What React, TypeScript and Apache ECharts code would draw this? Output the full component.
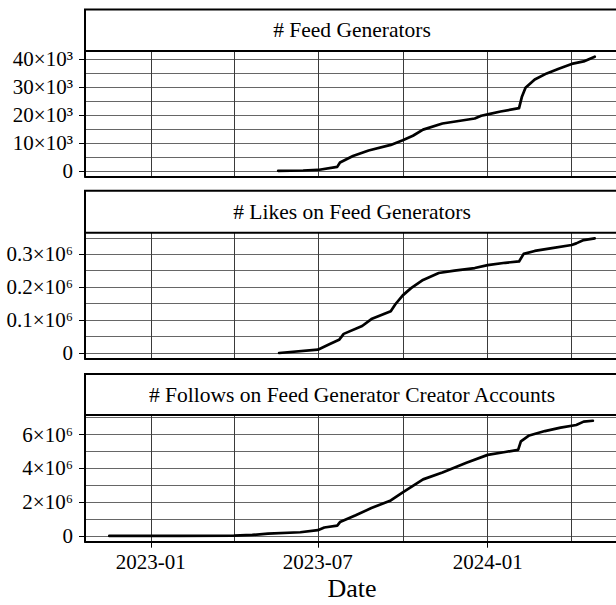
import React, { useEffect, useRef } from "react";
import * as echarts from "echarts";

// ---------- data ----------
const feedGenDates = [
  "2023-05-19", "2023-06-15", "2023-07-01", "2023-07-22", "2023-07-25", "2023-08-08",
  "2023-08-25", "2023-09-18", "2023-10-01", "2023-10-12", "2023-10-23", "2023-11-13",
  "2023-12-18", "2023-12-25", "2024-01-01", "2024-01-15", "2024-02-04", "2024-02-07",
  "2024-02-11", "2024-02-21", "2024-03-05", "2024-03-18", "2024-04-01", "2024-04-14",
  "2024-04-26",
];
const feedGenValues = [
  0, 100, 300, 1400, 3000, 5300,
  7300, 9300, 11000, 12600, 14800, 17000,
  18800, 19800, 20300, 21300, 22500, 26500,
  29800, 32800, 35000, 36700, 38400, 39300,
  41000,
];

const likesDates = [
  "2023-05-20", "2023-07-01", "2023-07-14", "2023-07-24", "2023-07-29", "2023-08-18",
  "2023-08-28", "2023-09-18", "2023-09-23", "2023-10-01", "2023-10-10", "2023-10-23",
  "2023-11-09", "2023-11-26", "2023-12-18", "2024-01-01", "2024-01-20", "2024-02-04",
  "2024-02-09", "2024-02-21", "2024-03-09", "2024-04-01", "2024-04-06", "2024-04-14",
  "2024-04-26",
];
const likesValues = [
  0, 10000, 27000, 40000, 58000, 82000,
  103000, 127000, 148000, 175000, 197000, 222000,
  243000, 250000, 258000, 267000, 274000, 278000,
  301000, 310000, 318000, 328000, 333000, 343000,
  348000,
];

const followsDates = [
  "2022-11-17", "2023-02-01", "2023-04-01", "2023-04-21", "2023-05-08", "2023-06-12",
  "2023-07-01", "2023-07-08", "2023-07-22", "2023-07-25", "2023-08-11", "2023-08-28",
  "2023-09-18", "2023-10-01", "2023-10-23", "2023-11-13", "2023-12-09", "2024-01-01",
  "2024-01-20", "2024-02-03", "2024-02-06", "2024-02-15", "2024-03-03", "2024-03-20",
  "2024-04-06", "2024-04-14", "2024-04-24",
];
const followsValues = [
  0, 5000, 20000, 60000, 140000, 220000,
  340000, 500000, 610000, 820000, 1220000, 1650000,
  2100000, 2580000, 3350000, 3760000, 4330000, 4800000,
  4970000, 5100000, 5600000, 5950000, 6210000, 6410000,
  6570000, 6770000, 6820000,
];

const panelTitles = [
  "# Feed Generators",
  "# Likes on Feed Generators",
  "# Follows on Feed Generator Creator Accounts",
];

const xMajorDates = ["2023-01-01", "2023-07-01", "2024-01-01"];
const xMajorLabels = ["2023-01", "2023-07", "2024-01"];
const xGridDates = ["2023-01-01", "2023-04-01", "2023-07-01", "2023-10-01", "2024-01-01", "2024-04-01"];
const xAxisTitle = "Date";

const feedGenTicks = [0, 10000, 20000, 30000, 40000];
const feedGenTickLabels = ["0", "10×10³", "20×10³", "30×10³", "40×10³"];
const feedGenGrid = [0, 5000, 10000, 15000, 20000, 25000, 30000, 35000, 40000];

const likesTicks = [0, 100000, 200000, 300000];
const likesTickLabels = ["0", "0.1×10⁶", "0.2×10⁶", "0.3×10⁶"];
const likesGrid = [0, 50000, 100000, 150000, 200000, 250000, 300000, 350000];

const followsTicks = [0, 2000000, 4000000, 6000000];
const followsTickLabels = ["0", "2×10⁶", "4×10⁶", "6×10⁶"];
const followsGrid = [0, 1000000, 2000000, 3000000, 4000000, 5000000, 6000000, 7000000];

// ---------- helpers ----------
const ts = (s: string) => new Date(s + "T00:00:00Z").getTime();

const FONT = "Liberation Serif";

export default function App() {
  const ref = useRef<HTMLDivElement>(null);

  useEffect(() => {
    if (!ref.current) return;
    const chart = echarts.init(ref.current, null, { renderer: "svg" });

    const panels = [
      { dates: feedGenDates, values: feedGenValues, ticks: feedGenTicks, labels: feedGenTickLabels, grid: feedGenGrid },
      { dates: likesDates, values: likesValues, ticks: likesTicks, labels: likesTickLabels, grid: likesGrid },
      { dates: followsDates, values: followsValues, ticks: followsTicks, labels: followsTickLabels, grid: followsGrid },
    ];

    // shared x range (ggplot-like 5% expansion)
    const allX = panels.flatMap((p) => p.dates.map(ts));
    const xLo = Math.min(...allX);
    const xHi = Math.max(...allX);
    const xMin = xLo - 0.05 * (xHi - xLo);
    const xMax = xHi + 0.05 * (xHi - xLo);

    const left = 85;
    const plotWidth = 534;
    const stripTops = [9.4, 190.7, 374];
    const gridTops = [51, 232.7, 415];
    const gridHeights = [125.5, 126, 126.7];

    const grids: any[] = [];
    const xAxes: any[] = [];
    const yAxes: any[] = [];
    const series: any[] = [];
    const graphics: any[] = [];
    const titles: any[] = [];

    panels.forEach((p, i) => {
      const yLo = Math.min(...p.values);
      const yHi = Math.max(...p.values);
      const yMin = yLo - 0.05 * (yHi - yLo);
      const yMax = yHi + 0.05 * (yHi - yLo);

      grids.push({
        left,
        top: gridTops[i],
        width: plotWidth,
        height: gridHeights[i],
        containLabel: false,
        outerBoundsMode: "none",
      });

      xAxes.push({
        type: "value",
        gridIndex: i,
        position: "bottom",
        min: xMin,
        max: xMax,
        axisLine: { show: true, onZero: false, lineStyle: { color: "#000", width: 2 } },
        axisTick: { show: false, customValues: xGridDates.map(ts) },
        axisLabel: { show: false },
        splitLine: { show: true, lineStyle: { color: "#3a3a3a", width: 1 } },
      });

      yAxes.push({
        type: "value",
        gridIndex: i,
        position: "left",
        min: yMin,
        max: yMax,
        axisLine: { show: true, onZero: false, lineStyle: { color: "#000", width: 2 } },
        axisTick: { show: false, customValues: p.grid },
        axisLabel: { show: false },
        splitLine: { show: true, lineStyle: { color: "#666", width: 1 } },
      });
      yAxes.push({
        type: "value",
        gridIndex: i,
        position: "left",
        min: yMin,
        max: yMax,
        axisLine: { show: false, onZero: false },
        axisTick: { show: true, customValues: p.ticks, length: 6, lineStyle: { color: "#000", width: 1 } },
        axisLabel: {
          show: true,
          customValues: p.ticks,
          margin: 12,
          color: "#000",
          fontFamily: FONT,
          fontSize: 21,
          formatter: (v: number) => {
            const k = p.ticks.findIndex((t) => Math.abs(t - v) < 1e-6 * (yHi - yLo));
            return k >= 0 ? p.labels[k] : "";
          },
        },
        splitLine: { show: false },
      });

      series.push({
        type: "line",
        xAxisIndex: i,
        yAxisIndex: 2 * i,
        data: p.dates.map((d, k) => [ts(d), p.values[k]]),
        showSymbol: false,
        symbol: "none",
        smooth: false,
        lineStyle: { color: "#000", width: 2.7, join: "round", cap: "round" },
        z: 5,
      });

      graphics.push({
        type: "rect",
        z: 10,
        shape: { x: left, y: stripTops[i], width: 600, height: gridTops[i] - stripTops[i] },
        style: { fill: "#fff", stroke: "#000", lineWidth: 2 },
      });

      titles.push({
        text: panelTitles[i],
        left: left + plotWidth / 2,
        top: (stripTops[i] + gridTops[i]) / 2 - 13,
        textAlign: "center",
        padding: 0,
        z: 12,
        textStyle: { color: "#000", fontFamily: FONT, fontSize: 21.5, fontWeight: "normal", lineHeight: 26 },
      });
    });

    // bottom labelled x axis for last panel
    xAxes.push({
      type: "value",
      gridIndex: 2,
      position: "bottom",
      min: xMin,
      max: xMax,
      axisLine: { show: false, onZero: false },
      axisTick: { show: true, customValues: xMajorDates.map(ts), length: 6, lineStyle: { color: "#000", width: 1 } },
      axisLabel: {
        show: true,
        customValues: xMajorDates.map(ts),
        margin: 10,
        color: "#000",
        fontFamily: FONT,
        fontSize: 21,
        formatter: (v: number) => {
          const k = xMajorDates.findIndex((d) => Math.abs(ts(d) - v) < 3600000);
          return k >= 0 ? xMajorLabels[k] : "";
        },
      },
      splitLine: { show: false },
      name: xAxisTitle,
      nameLocation: "middle",
      nameGap: 34,
      nameTextStyle: { color: "#000", fontFamily: FONT, fontSize: 26 },
    });

    chart.setOption({
      animation: false,
      backgroundColor: "#fff",
      title: titles,
      grid: grids,
      xAxis: xAxes,
      yAxis: yAxes,
      series,
      graphic: graphics,
    });

    return () => chart.dispose();
  }, []);

  return (
    <div
      ref={ref}
      style={{ position: "fixed", left: 0, top: 0, width: 616, height: 605, background: "#fff" }}
    />
  );
}
